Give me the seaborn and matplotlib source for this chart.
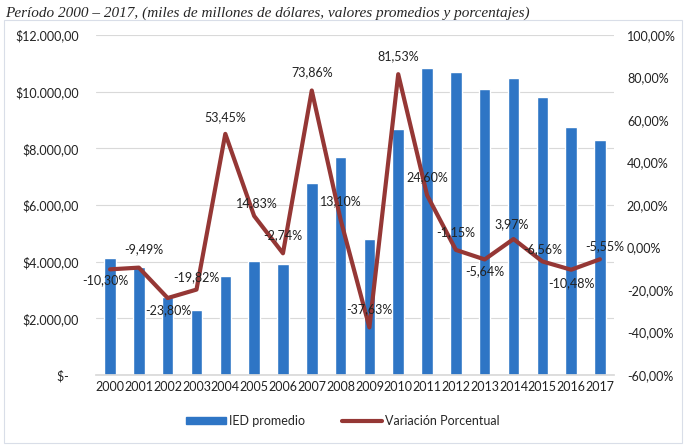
import numpy as np
import pandas as pd
import matplotlib
matplotlib.use("Agg")
import matplotlib.pyplot as plt
import seaborn as sns
from matplotlib.patches import Patch, Rectangle
from matplotlib.lines import Line2D
from matplotlib.ticker import FuncFormatter

years = [str(y) for y in range(2000, 2018)]
ied = [4130, 3820, 2760, 2290, 3490, 4020, 3920, 6780, 7690, 4790,
       8680, 10820, 10690, 10080, 10480, 9800, 8760, 8290]
variacion = [-10.30, -9.49, -23.80, -19.82, 53.45, 14.83, -2.74, 73.86, 13.10, -37.63,
             81.53, 24.60, -1.15, -5.64, 3.97, -6.56, -10.48, -5.55]

# label offsets in pixels (dx, dy)
offs = [(-5, -11), (5, 18), (1, -12), (0, 12), (0, 17), (3, 13), (0, 18), (0, 18), (0, 18),
        (0, 18), (0, 18), (0, 18), (0, 18), (0, -12), (-2, 15), (0, 12), (0, -13), (5, 13)]

df = pd.DataFrame({"anio": years, "ied": ied, "var": variacion})

sns.set_theme(style="white")
plt.rcParams["font.family"] = ["Lato", "DejaVu Sans"]

bar_color = "#2E75C5"
line_color = "#953735"

fig = plt.figure(figsize=(6.86, 4.48), dpi=100)
ax = fig.add_axes([0.1394, 0.163, 0.7562, 0.759])

sns.barplot(data=df, x="anio", y="ied", color=bar_color, width=0.4, saturation=1, ax=ax)
ax.set_ylim(0, 12000)
ax.set_yticks(range(0, 12001, 2000))
ax.yaxis.set_major_formatter(FuncFormatter(
    lambda v, p: "$-   " if v == 0 else "$" + f"{v:,.2f}".replace(",", "X").replace(".", ",").replace("X", ".")))
ax.grid(axis="y", color="#D9D9D9", linewidth=0.8)
ax.set_axisbelow(True)
ax.set_xlabel("")
ax.set_ylabel("")
for s in ax.spines.values():
    s.set_visible(False)
ax.spines["bottom"].set_visible(True)
ax.spines["bottom"].set_color("#D9D9D9")
ax.tick_params(axis="both", length=0, labelsize=9, colors="#222222", pad=4)
ax.tick_params(axis="y", pad=12)

ax2 = ax.twinx()
sns.lineplot(x=np.arange(len(years)), y=variacion, color=line_color, linewidth=3, ax=ax2)
ax2.set_ylim(-60, 100)
ax2.set_yticks(range(-60, 101, 20))
ax2.yaxis.set_major_formatter(FuncFormatter(lambda v, p: f"{v:.2f}".replace(".", ",") + "%"))
ax2.tick_params(axis="y", length=0, labelsize=9, colors="#222222", pad=9)
for s in ax2.spines.values():
    s.set_visible(False)
ax.set_xlim(-0.5, len(years) - 0.5)

for i, (v, (dx, dy)) in enumerate(zip(variacion, offs)):
    ax2.annotate(f"{v:.2f}".replace(".", ",") + "%", (i, v), xytext=(dx, dy),
                 textcoords="offset pixels", ha="center", va="center",
                 fontsize=9, color="#222222")

fig.text(0.008, 0.985, "Período 2000 – 2017, (miles de millones de dólares, valores promedios y porcentajes)",
         family="Liberation Serif", style="italic", fontsize=11, ha="left", va="top")

fig.patches.append(Rectangle((0.006, 0.012), 0.988, 0.944, transform=fig.transFigure,
                             fill=False, edgecolor="#D9DEE8", linewidth=0.8))

handles = [Patch(color=bar_color, label="IED promedio"),
           Line2D([0], [0], color=line_color, linewidth=3, label="Variación Porcentual")]
fig.legend(handles=handles, loc="center", bbox_to_anchor=(0.5, 0.06), ncol=2, frameon=False,
           fontsize=9, handlelength=3.2, handleheight=0.5, columnspacing=3, handletextpad=0.2)

fig.savefig("out.png", dpi=100)
